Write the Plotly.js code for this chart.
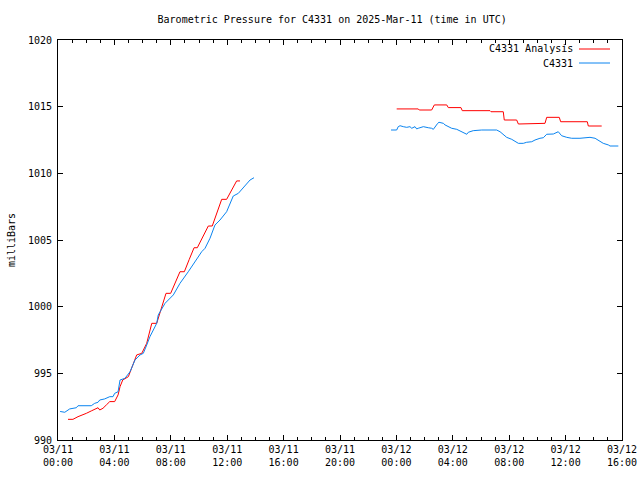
<!DOCTYPE html>
<html>
<head>
<meta charset="utf-8">
<script src="https://cdn.plot.ly/plotly-3.0.1.min.js"></script>
<style>html,body{margin:0;padding:0;background:#fff;}#chart{width:640px;height:480px;}</style>
</head>
<body>
<div id="chart"></div>
<script>
// Hours since 2025-03-11 00:00 UTC; null marks a data gap
const analysisName = "C4331 Analysis";
const obsName = "C4331";

const analysisHours = [0.71,1.06,1.42,1.77,2.01,2.36,2.60,2.84,2.96,3.19,3.43,3.67,4.02,4.26,4.40,4.59,4.99,5.23,5.58,5.94,6.29,6.65,7.0,7.66,7.99,8.65,8.96,9.31,9.65,9.88,10.66,10.94,11.61,11.96,12.67,12.91,
  null,
  24.02,25.55,25.62,26.50,26.69,27.57,27.68,28.58,28.67,30.64,30.71,31.58,31.65,32.53,32.65,33.60,34.54,34.66,35.55,35.65,37.54,37.61,38.56];
const analysisValues = [991.55,991.55,991.75,991.88,992.0,992.18,992.33,992.42,992.25,992.38,992.63,992.88,992.88,993.38,994.0,994.5,994.75,995.38,996.38,996.5,997.25,998.75,998.75,1001.0,1001.0,1002.62,1002.62,1003.55,1004.42,1004.42,1006.05,1006.05,1008.05,1008.05,1009.43,1009.43,
  null,
  1014.83,1014.83,1014.75,1014.75,1015.13,1015.13,1014.93,1014.93,1014.70,1014.70,1014.62,1014.62,1014.0,1014.0,1013.70,1013.75,1013.75,1014.2,1014.2,1013.87,1013.87,1013.55,1013.55];

const obsHours = [0.15,0.48,0.83,1.30,1.42,2.36,2.60,2.84,2.96,3.31,3.67,3.90,4.02,4.26,4.40,4.75,5.11,5.46,5.82,6.05,6.29,6.52,6.76,7.0,7.11,7.59,8.18,8.65,9.24,9.72,10.19,10.43,10.71,10.78,11.13,11.49,11.96,12.43,12.79,13.03,13.38,13.62,13.9,
  null,
  23.62,24.02,24.13,24.26,24.49,24.73,24.96,25.09,25.32,25.44,25.55,25.91,26.26,26.50,26.62,26.74,26.93,27.02,27.33,27.45,27.68,27.92,28.28,28.51,28.74,28.99,29.10,29.45,30.05,30.52,30.76,31.11,31.35,31.58,31.82,32.18,32.41,32.65,33.0,33.24,33.60,33.83,34.18,34.42,34.66,35.13,35.48,35.72,36.08,36.43,37.02,37.26,37.73,38.09,38.44,38.67,39.03,39.15,39.74];
const obsValues = [992.14,992.08,992.33,992.42,992.57,992.57,992.75,992.83,993.0,993.08,993.25,993.25,993.5,993.62,994.5,994.63,995.12,996.0,996.38,996.5,997.12,997.75,998.25,998.75,999.38,1000.25,1000.88,1001.75,1002.62,1003.37,1004.12,1004.38,1005.0,1005.13,1006.12,1006.5,1007.12,1008.3,1008.5,1008.8,1009.25,1009.5,1009.67,
  null,
  1013.25,1013.25,1013.50,1013.57,1013.50,1013.45,1013.50,1013.38,1013.50,1013.33,1013.38,1013.50,1013.42,1013.38,1013.30,1013.50,1013.75,1013.83,1013.75,1013.63,1013.50,1013.38,1013.30,1013.18,1013.08,1012.93,1013.08,1013.20,1013.25,1013.25,1013.20,1013.25,1013.12,1012.88,1012.70,1012.55,1012.43,1012.25,1012.25,1012.33,1012.37,1012.50,1012.63,1012.67,1012.93,1012.95,1013.12,1012.82,1012.70,1012.63,1012.63,1012.67,1012.70,1012.63,1012.43,1012.25,1012.13,1012.05,1012.05];

const xTickHours = [0,4,8,12,16,20,24,28,32,36,40];
const xTickText = ["03/11<br>00:00","03/11<br>04:00","03/11<br>08:00","03/11<br>12:00","03/11<br>16:00","03/11<br>20:00",
                   "03/12<br>00:00","03/12<br>04:00","03/12<br>08:00","03/12<br>12:00","03/12<br>16:00"];
const yTickVals = [990,995,1000,1005,1010,1015,1020];

const redColor = "#ff0000";
const blueColor = "#0a84f0";
const font = {family: "DejaVu Sans Mono, monospace", size: 10, color: "#000"};

const traces = [
  {x: analysisHours, y: analysisValues, name: analysisName, mode: "lines", type: "scatter",
   line: {color: redColor, width: 1}, connectgaps: false, showlegend: false},
  {x: obsHours, y: obsValues, name: obsName, mode: "lines", type: "scatter",
   line: {color: blueColor, width: 1}, connectgaps: false, showlegend: false}
];

// gnuplot-style key: text right-aligned, sample line on the right
const legendNames = [analysisName, obsName];
const legendColors = [redColor, blueColor];
const annotations = [];
const shapes = [];
legendNames.forEach((nm, i) => {
  const yPix = 49 + i * 14;
  const yPaper = 1 - (yPix - 40) / 400;
  annotations.push({text: nm, xref: "paper", yref: "paper", x: (575 - 58) / 564, y: yPaper,
    xanchor: "right", yanchor: "middle", showarrow: false, font: font});
  shapes.push({type: "line", xref: "paper", yref: "paper", x0: (579 - 58) / 564, x1: (610 - 58) / 564,
    y0: yPaper, y1: yPaper, line: {color: legendColors[i], width: 1}});
});

const layout = {
  width: 640, height: 480,
  margin: {l: 58, r: 18, t: 40, b: 40, pad: 0},
  paper_bgcolor: "#fff", plot_bgcolor: "#fff",
  font: font,
  title: {text: "Barometric Pressure for C4331 on 2025-Mar-11 (time in UTC)", font: font,
          x: 0.519, xref: "container", xanchor: "center", y: 1 - 19 / 480, yref: "container", yanchor: "middle"},
  xaxis: {range: [0, 40], tickvals: xTickHours, ticktext: xTickText, showgrid: false, zeroline: false,
          showline: true, linecolor: "#000", linewidth: 1, mirror: "allticks",
          ticks: "inside", ticklen: 5, tickcolor: "#000", tickwidth: 1, tickangle: 0,
          minor: {dtick: 1, ticks: "inside", ticklen: 3, tickcolor: "#000", tickwidth: 1, showgrid: false},
          tickfont: font, fixedrange: true},
  yaxis: {range: [990, 1020], tickvals: yTickVals, showgrid: false, zeroline: false,
          showline: true, linecolor: "#000", linewidth: 1, mirror: "allticks",
          ticks: "inside", ticklen: 5, tickcolor: "#000", tickwidth: 1,
          tickfont: font, ticklabelstandoff: 3,
          title: {text: "milliBars", font: font, standoff: 10}},
  annotations: annotations,
  shapes: shapes
};

Plotly.newPlot("chart", traces, layout, {staticPlot: true, displayModeBar: false});
</script>
</body>
</html>
